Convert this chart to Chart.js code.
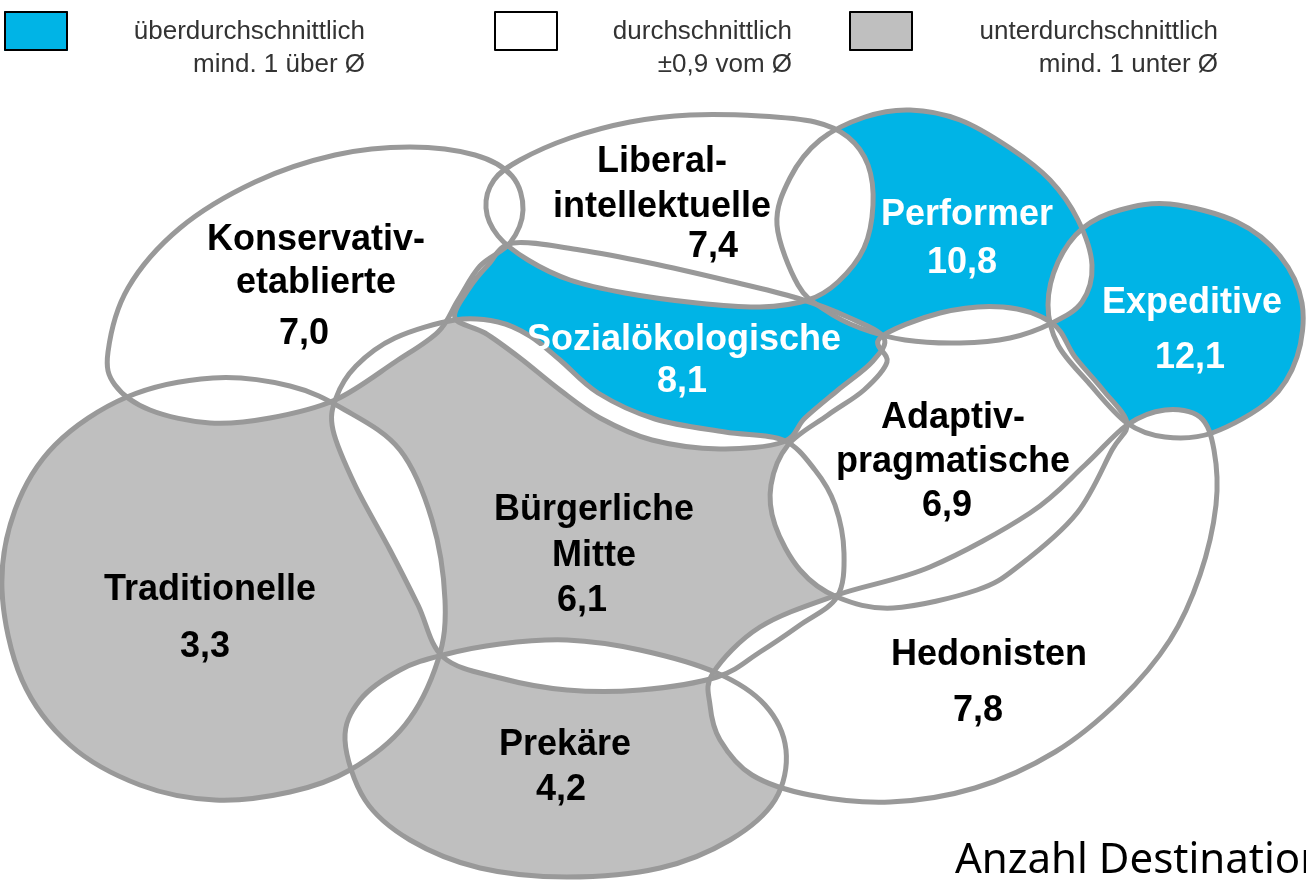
<!DOCTYPE html>
<html>
<head>
<meta charset="utf-8">
<title>Sinus-Milieus – Anzahl Destinationen</title>
<script src="https://cdn.jsdelivr.net/npm/chart.js@4.4.1/dist/chart.umd.min.js"></script>
<style>
    html, body { margin: 0; padding: 0; background: #fff; }
    #wrap { position: relative; width: 1306px; height: 880px; }
    canvas { display: block; }
</style>
</head>
<body>
<div id="wrap"><canvas id="milieuChart"></canvas></div>
<script>
// Daten
const milieus = ['Konservativ-etablierte', 'Liberal-intellektuelle', 'Performer', 'Expeditive',
    'Sozialökologische', 'Adaptiv-pragmatische', 'Bürgerliche Mitte', 'Traditionelle', 'Prekäre', 'Hedonisten'];
const destinations = [7.0, 7.4, 10.8, 12.1, 8.1, 6.9, 6.1, 3.3, 4.2, 7.8];
const average = 7.1;
const legendTop = ['überdurchschnittlich', 'durchschnittlich', 'unterdurchschnittlich'];
const legendBottom = ['mind. 1 über Ø', '±0,9 vom Ø', 'mind. 1 unter Ø'];
const axisTitle = 'Anzahl Destinationen';

// Umrisse der Milieus (Pixelraster 1306 x 880)
const shapes = [
    [[108,352],[128,288],[180,228],[255,182],[335,155],[410,147],[475,155],[512,176],[523,210],[510,243],[480,266],[458,300],[438,332],[395,362],[335,400],[270,418],[210,423],[150,410],[115,385]],
    [[486,208],[494,180],[520,160],[570,138],[630,122],[690,115],[760,116],[815,122],[848,137],[868,165],[873,205],[864,248],[838,282],[808,300],[760,307],[697,303],[625,293],[570,280],[528,260],[498,236]],
    [[777,225],[790,178],[820,140],[865,117],[910,110],[960,120],[1010,148],[1050,180],[1078,220],[1092,265],[1082,302],[1052,323],[1010,338],[960,343],[905,340],[860,328],[825,310],[798,285]],
    [[1048,305],[1058,262],[1083,228],[1120,210],[1170,204],[1237,222],[1280,256],[1302,303],[1297,357],[1270,400],[1212,433],[1165,437],[1127,423],[1088,382],[1058,345]],
    [[455,318],[468,290],[488,265],[513,243],[580,250],[650,263],[725,280],[797,298],[850,318],[884,338],[872,362],[838,390],[805,418],[783,442],[720,449],[652,440],[600,418],[560,390],[520,358],[485,333]],
    [[880,338],[940,313],[1003,307],[1052,323],[1075,357],[1103,390],[1127,423],[1112,450],[1077,513],[1020,565],[977,590],[893,608],[837,597],[800,570],[775,525],[771,485],[788,445],[828,415],[864,390],[887,362]],
    [[455,320],[498,322],[530,336],[560,360],[598,393],[655,419],[725,432],[783,440],[815,470],[835,505],[844,553],[837,597],[800,625],[760,652],[717,677],[640,690],[567,690],[500,678],[443,657],[418,605],[390,550],[355,485],[333,430],[336,398],[356,366],[395,338]],
    [[2,590],[15,510],[55,445],[127,397],[213,378],[290,386],[345,410],[400,450],[432,520],[445,600],[438,660],[405,725],[350,770],[290,792],[215,800],[140,785],[70,745],[22,680]],
    [[345,740],[360,700],[400,670],[443,655],[500,644],[567,640],[640,650],[717,673],[765,705],[786,750],[775,800],[730,840],[660,868],[567,877],[480,868],[410,840],[365,800]],
    [[713,673],[760,627],[837,595],[930,567],[1030,513],[1085,465],[1127,425],[1165,410],[1200,417],[1214,450],[1216,505],[1200,575],[1170,640],[1120,700],[1055,752],[975,788],[890,802],[810,795],[752,775],[720,740],[710,705]]
];

// Position der Beschriftungen: Mitte x, Grundlinien der Namenszeilen, Position des Werts
const labelPos = [
    {x: 316, y: [250, 293], vx: 304, vy: 344},
    {x: 662, y: [172, 217], vx: 713, vy: 257},
    {x: 967, y: [225], vx: 962, vy: 273},
    {x: 1192, y: [313], vx: 1190, vy: 368},
    {x: 684, y: [350], vx: 682, vy: 392},
    {x: 953, y: [428, 472], vx: 947, vy: 516},
    {x: 594, y: [520, 566], vx: 582, vy: 611},
    {x: 210, y: [600], vx: 205, vy: 657},
    {x: 565, y: [755], vx: 561, vy: 800},
    {x: 989, y: [665], vx: 978, vy: 721}
];

const BLUE = '#00b4e6';
const GREY = '#bfbfbf';
const LINE = '#999999';

function classify(v) {
    const d = v - average;
    if (d >= 0.95) return 'above';
    if (d <= -0.95) return 'below';
    return 'avg';
}
const fillFor = { above: BLUE, below: GREY, avg: null };

function smoothPath(pts) {
    const p = new Path2D();
    const n = pts.length;
    p.moveTo(pts[0].x, pts[0].y);
    for (let i = 0; i < n; i++) {
        const p0 = pts[(i - 1 + n) % n], p1 = pts[i], p2 = pts[(i + 1) % n], p3 = pts[(i + 2) % n];
        p.bezierCurveTo(p1.x + (p2.x - p0.x) / 6, p1.y + (p2.y - p0.y) / 6,
                        p2.x - (p3.x - p1.x) / 6, p2.y - (p3.y - p1.y) / 6, p2.x, p2.y);
    }
    p.closePath();
    return p;
}

const milieuPlugin = {
    id: 'milieuMap',
    beforeDatasetsDraw(chart) {
        const ctx = chart.ctx;
        const paths = chart.data.datasets.map((ds, i) =>
            smoothPath(chart.getDatasetMeta(i).data.map(pt => ({ x: pt.x, y: pt.y }))));
        const classes = destinations.map(classify);

        ctx.save();
        // Flächen
        paths.forEach((p, i) => {
            const c = fillFor[classes[i]];
            if (c) { ctx.fillStyle = c; ctx.fill(p); }
        });
        // Überschneidungen weiß
        paths.forEach((p, i) => {
            if (!fillFor[classes[i]]) return;
            paths.forEach((q, j) => {
                if (i === j) return;
                ctx.save();
                ctx.clip(p);
                ctx.fillStyle = '#ffffff';
                ctx.fill(q);
                ctx.restore();
            });
        });
        // Umrisse
        ctx.strokeStyle = LINE;
        ctx.lineWidth = 5;
        ctx.lineJoin = 'round';
        paths.forEach(p => ctx.stroke(p));

        // Beschriftungen
        ctx.textAlign = 'center';
        ctx.textBaseline = 'alphabetic';
        ctx.font = 'bold 36px "Liberation Sans", Arial, sans-serif';
        milieus.forEach((name, i) => {
            const pos = labelPos[i];
            const lines = name.replace('-', '-\n').replace(' ', '\n').split('\n');
            ctx.fillStyle = classes[i] === 'above' ? '#ffffff' : '#000000';
            lines.forEach((line, k) => ctx.fillText(line, pos.x, pos.y[k]));
            ctx.fillText(destinations[i].toFixed(1).replace('.', ','), pos.vx, pos.vy);
        });

        // Legende
        const boxes = [[4, 11], [494, 11], [849, 11]];
        const rights = [365, 792, 1218];
        const boxFill = [BLUE, '#ffffff', GREY];
        ctx.font = '26px "Liberation Sans", Arial, sans-serif';
        ctx.textAlign = 'right';
        boxes.forEach((b, i) => {
            ctx.fillStyle = boxFill[i];
            ctx.fillRect(b[0], b[1], 64, 40);
            ctx.strokeStyle = '#000';
            ctx.lineWidth = 2;
            ctx.strokeRect(b[0] + 1, b[1] + 1, 62, 38);
            ctx.fillStyle = '#333333';
            ctx.fillText(legendTop[i], rights[i], 39);
            ctx.fillText(legendBottom[i], rights[i], 72);
        });

        // Achsentitel
        ctx.textAlign = 'left';
        ctx.fillStyle = '#000';
        ctx.font = '42px "Noto Sans", sans-serif';
        ctx.fillText(axisTitle, 955, 873);
        ctx.restore();
    }
};

document.addEventListener('DOMContentLoaded', function() {
    const ctx = document.getElementById('milieuChart').getContext('2d');
    new Chart(ctx, {
        type: 'scatter',
        data: {
            datasets: milieus.map((name, i) => ({
                label: name,
                data: shapes[i].map(p => ({ x: p[0], y: p[1] })),
                pointRadius: 0,
                pointHoverRadius: 0,
                showLine: false
            }))
        },
        options: {
            responsive: true,
            maintainAspectRatio: false,
            animation: false,
            events: [],
            layout: { padding: 0 },
            scales: {
                x: { type: 'linear', min: 0, max: 1306, display: false },
                y: { type: 'linear', min: 0, max: 880, reverse: true, display: false }
            },
            plugins: {
                legend: { display: false },
                tooltip: { enabled: false }
            }
        },
        plugins: [milieuPlugin]
    });
});
</script>
</body>
</html>
